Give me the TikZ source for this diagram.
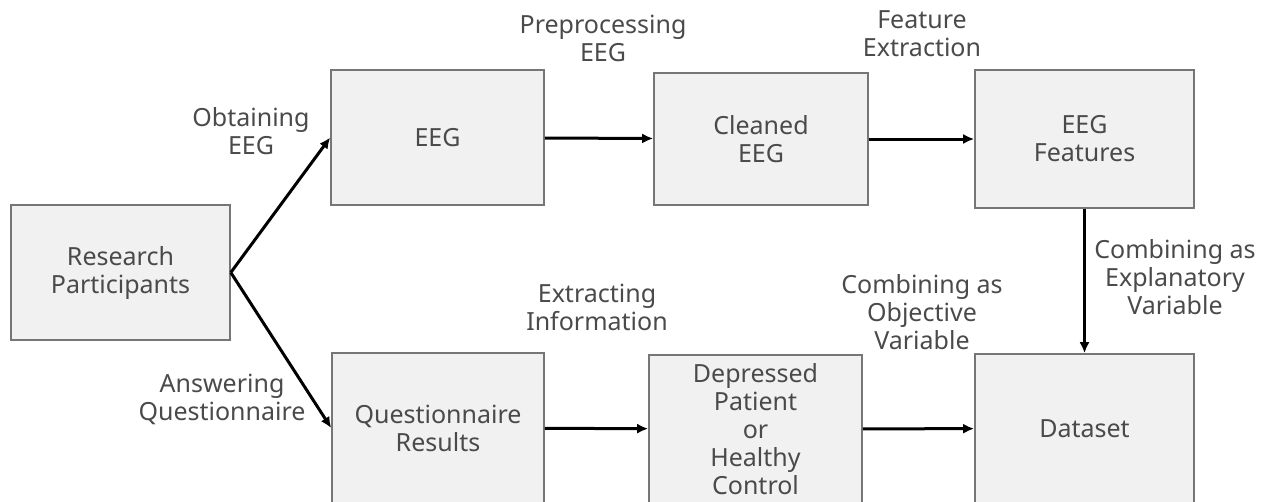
\documentclass[tikz,border=0pt]{standalone}
\usepackage{fontspec}
\setmainfont{Noto Sans}
\usetikzlibrary{arrows.meta,positioning}
\definecolor{boxline}{HTML}{767676}
\definecolor{boxfill}{HTML}{F1F1F1}
\definecolor{textgray}{HTML}{4A4A4A}
\tikzset{stage/.style={draw=boxline, line width=1.6pt, fill=boxfill, align=center, text=textgray, inner sep=0pt},
  flow/.style={line width=3pt, -{Latex[length=11pt,width=10pt]}},
  note/.style={align=center, text=textgray, inner sep=0pt}}

\begin{document}
\begin{tikzpicture}[x=1pt,y=-1pt,font=\fontsize{25}{28}\selectfont]
\useasboundingbox (0,0) rectangle (1261,501);

\node[stage, minimum width=219pt, minimum height=135pt] (participants) at (120.5,272.5) {Research\\Participants};
\node[stage, minimum width=213pt, minimum height=135pt] (eeg) at (437.5,137.5) {EEG};
\node[stage, minimum width=214pt, minimum height=132pt] (cleaned) at (761,139) {Cleaned\\EEG};
\node[stage, minimum width=219pt, minimum height=138pt] (features) at (1084.5,139) {EEG\\Features};
\node[stage, minimum width=212pt, minimum height=150pt] (results) at (438,428) {Questionnaire\\Results};
\node[stage, minimum width=213pt, minimum height=148pt] (status) at (755.5,429) {Depressed\\Patient\\or\\Healthy\\Control};
\node[stage, minimum width=219pt, minimum height=149pt] (dataset) at (1084.5,428.5) {Dataset};

\node[note] (obtain) at (251,131) {Obtaining\\EEG};
\node[note] (answer) at (222,399) {Answering\\Questionnaire};
\node[note] (preprocess) at (603,38) {Preprocessing\\EEG};
\node[note] (extraction) at (922,34) {Feature\\Extraction};
\node[note] (information) at (597,307) {Extracting\\Information};
\node[note] (objective) at (922,312) {Combining as\\Objective\\Variable};
\node[note] (explanatory) at (1175,277) {Combining as\\Explanatory\\Variable};

\draw[flow] (participants.east) -- (eeg.west);
\draw[flow] (participants.east) -- (results.west);
\draw[flow] (eeg) -- (cleaned);
\draw[flow] (cleaned) -- (features);
\draw[flow] (results) -- (status);
\draw[flow] (status) -- (dataset);
\draw[flow] (features) -- (dataset);

\end{tikzpicture}
\end{document}
